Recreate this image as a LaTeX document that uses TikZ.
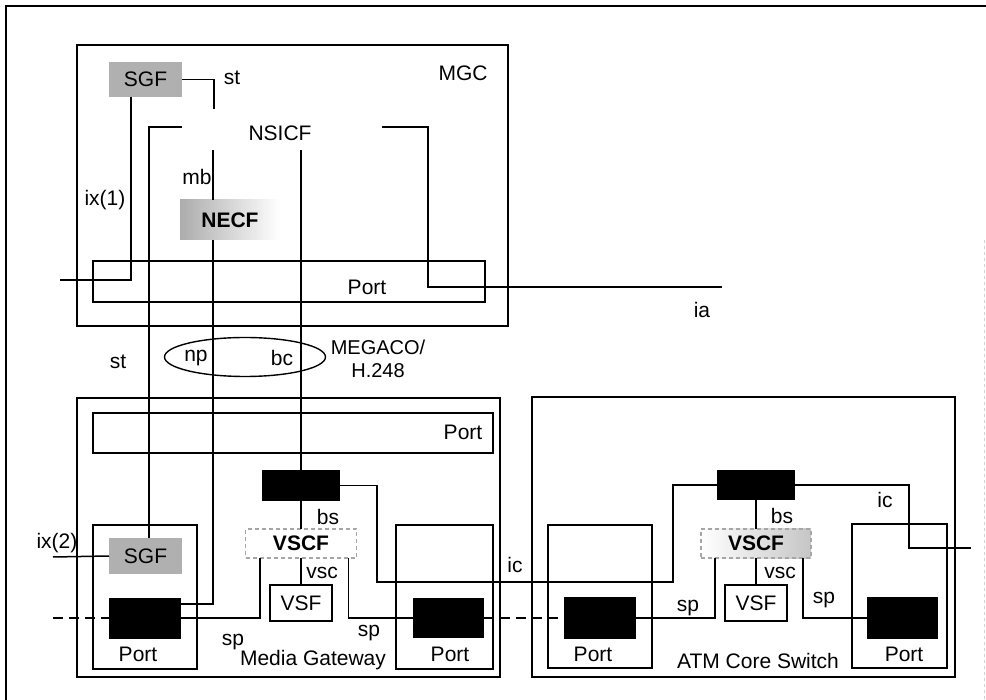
\documentclass[tikz,border=0pt]{standalone}
\usepackage{fontspec}
\setmainfont{Liberation Sans}
\usetikzlibrary{shapes.geometric}
\begin{document}
\begin{tikzpicture}[x=1pt,y=-1pt,
  every node/.style={font=\fontsize{21}{24}\selectfont, inner sep=0pt, outer sep=0pt},
  line/.style={line width=1.5pt},
  dline/.style={line width=1.5pt, dash pattern=on 10pt off 6pt},
  box/.style={draw, line width=1.6pt, rectangle},
  blk/.style={fill=black, rectangle},
  gbox/.style={fill=gray!62, rectangle},
  vbox/.style={draw=gray!70, dash pattern=on 4pt off 3pt, line width=1.2pt, rectangle},
  bf/.style={font=\fontsize{21}{24}\selectfont\bfseries},
]
\useasboundingbox (0,0) rectangle (986,700);
% outer frame
\draw[line width=1.2pt] (6,700) -- (6,6) -- (986,6);
\draw[gray!35, line width=1pt, dashed] (984,240) -- (984,700);

% ---- MGC ----
\node[box, minimum width=431pt, minimum height=281pt] (mgc) at (292.5,185.5) {};
\node[box, minimum width=392pt, minimum height=41pt] (mgcport) at (289,281.5) {};
\node[gbox, minimum width=73pt, minimum height=35pt] (sgf1) at (145.5,79.5) {SGF};
\node[left color=gray!65, right color=white, minimum width=100pt, minimum height=40pt, bf] (necf) at (230,220) {NECF};
\node (nsicf) at (280,133) {NSICF};
\node (mgclbl) at (463,73) {MGC};
\node (mgcportlbl) at (367,287) {Port};

\coordinate (nsT) at (214,109);
\coordinate (nsB) at (213,150);
\coordinate (nsL) at (182,127);
\coordinate (nsC) at (301,150);
\coordinate (nsR) at (382,127);
\coordinate (iaC) at (428,287);
\coordinate (iaend) at (722,287);
\coordinate (ix1end) at (60,280);

% ---- Media Gateway ----
\node[box, minimum width=423pt, minimum height=279pt] (mg) at (288.5,537.5) {};
\node[box, minimum width=400pt, minimum height=40pt] (mgport) at (293,433) {};
\node (mgportlbl) at (463,432) {Port};
\node[blk, minimum width=78pt, minimum height=31pt] (mgbc) at (301,485.5) {};
\node[vbox, minimum width=111pt, minimum height=29pt, bf] (mgvscf) at (301,543.5) {VSCF};
\node[box, line width=1.2pt, minimum width=62pt, minimum height=36pt] (mgvsf) at (301,603) {VSF};
\node[box, minimum width=104pt, minimum height=144pt] (mglport) at (145,597) {};
\node[gbox, minimum width=73pt, minimum height=36pt] (sgf2) at (145.5,556) {SGF};
\node[blk, minimum width=72pt, minimum height=41pt] (mglblk) at (145,618) {};
\node (mglportlbl) at (138,654) {Port};
\node[box, minimum width=97pt, minimum height=144pt] (mgrport) at (444.5,597) {};
\node[blk, minimum width=71pt, minimum height=40pt] (mgrblk) at (448.5,618) {};
\node (mgrportlbl) at (450,654) {Port};
\node (mglbl) at (313,660) {Media Gateway};

% ---- ATM Core Switch ----
\node[box, minimum width=423pt, minimum height=280pt] (atm) at (743.5,537) {};
\node[blk, minimum width=78pt, minimum height=30pt] (atmbc) at (756,485) {};
\node[vbox, left color=white, right color=gray!45, minimum width=110pt, minimum height=29pt, bf] (atmvscf) at (756,543.5) {VSCF};
\node[box, line width=1.2pt, minimum width=62pt, minimum height=36pt] (atmvsf) at (756,603) {VSF};
\node[box, minimum width=104pt, minimum height=143pt] (atmlport) at (600,596.5) {};
\node[blk, minimum width=72pt, minimum height=42pt] (atmlblk) at (600,618) {};
\node (atmlportlbl) at (593,654) {Port};
\node[box, minimum width=95pt, minimum height=144pt] (atmrport) at (899.5,596) {};
\node[blk, minimum width=71pt, minimum height=42pt] (atmrblk) at (902.5,618) {};
\node (atmrportlbl) at (904,654) {Port};
\node (atmlbl) at (758,661) {ATM Core Switch};

% ---- ellipse ----
\node[ellipse, draw, line width=1.4pt, minimum width=161pt, minimum height=39pt] (ell) at (245,357) {};
\node (meg) at (378,359) [align=center, font=\fontsize{20}{23}\selectfont] {MEGACO/\\H.248};

\coordinate (ix2end) at (53,557);
\coordinate (dL) at (53,618);
\coordinate (icA) at (377,582);
\coordinate (icB) at (673,582);
\coordinate (icC) at (909,548);
\coordinate (icR) at (971,548);

% ---- connectors ----
\draw[line] (sgf1.east) -| (nsT);
\draw[line] ([xshift=-14.5pt]sgf1.south) |- (ix1end);
\draw[line] (nsB) -- (nsB |- necf.north);
\draw[line] (necf.south -| nsB) |- ([yshift=14pt]mglblk.east);
\draw[line] (nsL) -| ([xshift=3.5pt]sgf2.north);
\draw[line] (nsC) -- (mgbc.north);
\draw[line] (nsR) -| (iaC) -- (iaend);

\draw[line] (ix2end) -- (sgf2.west);
\draw[dline] (dL) -- (mglblk.west);
\draw[line] (mglblk.east) -| ([xshift=-41pt]mgvscf.south);
\draw[line] (mgbc.south) -- (mgvscf.north);
\draw[line] (mgvscf.south) -- (mgvsf.north);
\draw[line] ([xshift=47.5pt]mgvscf.south) |- (mgrblk.west);
\draw[dline] (mgrblk.east) -- (atmlblk.west);
\draw[line] (mgbc.east) -| (icA) -- (icB) |- (atmbc.west);

\draw[line] (atmbc.south) -- (atmvscf.north);
\draw[line] (atmvscf.south) -- (atmvsf.north);
\draw[line] (atmlblk.east) -| ([xshift=-41pt]atmvscf.south);
\draw[line] ([xshift=47pt]atmvscf.south) |- (atmrblk.west);
\draw[line] (atmbc.east) -| (icC) -- (icR);

% ---- labels ----
\node (l1) at (232,78) {st};
\node (l2) at (197,177) {mb};
\node (l3) at (105,200) {ix(1)};
\node (l4) at (702,310) {ia};
\node (l5) at (118,362) {st};
\node (l6) at (196,358) {np};
\node (l7) at (282,358) {bc};
\node (l8) at (328,517) {bs};
\node (l9) at (322,573) {vsc};
\node (l10) at (57,543) {ix(2)};
\node (l11) at (233,642) {sp};
\node (l12) at (369,633) {sp};
\node (l13) at (515,565) {ic};
\node (l14) at (782,516) {bs};
\node (l15) at (780,573) {vsc};
\node (l16) at (688,608) {sp};
\node (l17) at (824,600) {sp};
\node (l18) at (885,500) {ic};
\end{tikzpicture}
\end{document}
